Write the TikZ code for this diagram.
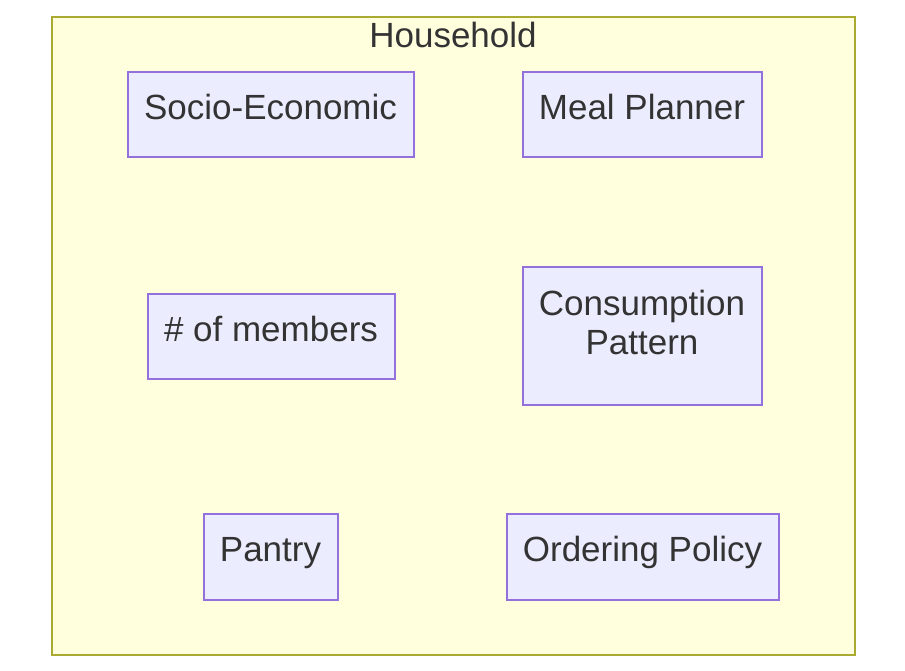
\documentclass[tikz,border=0pt]{standalone}
\usepackage{fontspec}
\setmainfont{Liberation Sans}
\definecolor{clfill}{HTML}{FFFFDE}
\definecolor{clstroke}{HTML}{AAAA33}
\definecolor{nfill}{HTML}{ECECFF}
\definecolor{nstroke}{HTML}{9370DB}
\definecolor{txt}{HTML}{333333}
\tikzset{
  cluster/.style={draw=clstroke, fill=clfill, line width=2pt, inner sep=0pt, anchor=north west},
  box/.style={draw=nstroke, fill=nfill, line width=2pt, inner sep=0pt, anchor=north west},
  lbl/.style={anchor=base, text=txt, font=\fontsize{35}{39}\selectfont, inner sep=0pt},
}
\begin{document}
\begin{tikzpicture}[x=1pt,y=-1pt]
\useasboundingbox (0,0) rectangle (905,671);
\node[cluster, minimum width=803pt, minimum height=637pt] (household) at (50.5,16.5) {};
\node[box, minimum width=286pt, minimum height=85pt] (socio) at (126.5,71.5) {};
\node[box, minimum width=239pt, minimum height=85pt] (meal) at (521.5,71.5) {};
\node[box, minimum width=247pt, minimum height=85pt] (members) at (146.5,292.5) {};
\node[box, minimum width=239pt, minimum height=138pt] (consumption) at (521.5,265.5) {};
\node[box, minimum width=134pt, minimum height=86pt] (pantry) at (202.5,512.5) {};
\node[box, minimum width=272pt, minimum height=86pt] (ordering) at (505.5,512.5) {};
\node[lbl] (household-t) at ([yshift=-31.5pt]household.north) {Household};
\node[lbl] (socio-t) at ([yshift=-5pt]socio.center) {Socio-Economic};
\node[lbl] (meal-t) at ([yshift=-5pt]meal.center) {Meal Planner};
\node[lbl] (members-t) at ([yshift=-5pt]members.center) {\# of members};
\node[lbl] (consumption-t1) at ([yshift=20.5pt]consumption.center) {Consumption};
\node[lbl] (consumption-t2) at ([yshift=-18.5pt]consumption.center) {Pattern};
\node[lbl] (pantry-t) at ([yshift=-5pt]pantry.center) {Pantry};
\node[lbl] (ordering-t) at ([yshift=-5pt]ordering.center) {Ordering Policy};
\end{tikzpicture}
\end{document}
